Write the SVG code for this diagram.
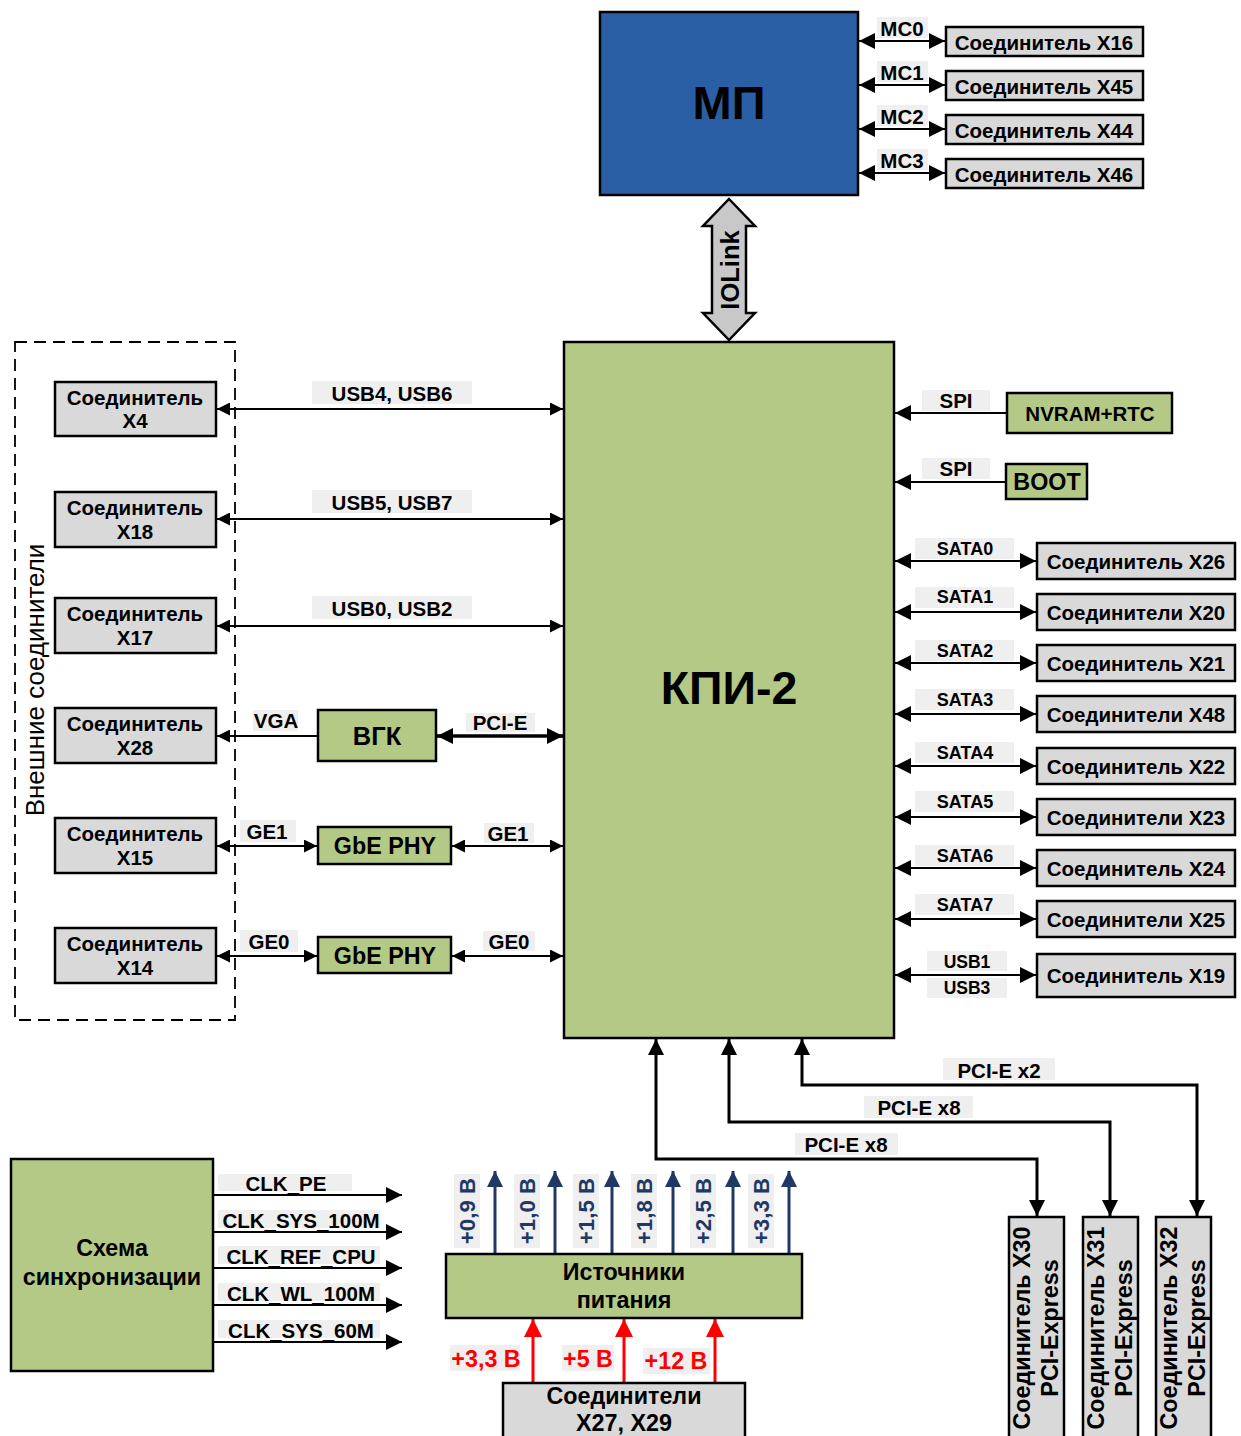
<svg xmlns="http://www.w3.org/2000/svg" width="1241" height="1436" viewBox="0 0 1241 1436">
<style>
text{font-family:"Liberation Sans",Arial,sans-serif;font-weight:bold;fill:#000}
.box{stroke:#000;stroke-width:2.5}
.gray{fill:#d9d9d9}
.green{fill:#b5c987}
.ln{stroke:#000;stroke-width:2;fill:none}
.lbg{fill:#efefef}
.c{text-anchor:middle;dominant-baseline:central}
.t18{font-size:18px}.t20{font-size:20px}.t205{font-size:20.5px}.t23{font-size:23.3px}
</style>
<defs>
<marker id="ah" viewBox="0 0 12 12" refX="12" refY="6" markerWidth="13" markerHeight="13" markerUnits="userSpaceOnUse" orient="auto-start-reverse"><path d="M0,0 L12,6 L0,12 z" fill="#000"/></marker>
<marker id="ahb" viewBox="0 0 16 16" refX="16" refY="8" markerWidth="16" markerHeight="16" markerUnits="userSpaceOnUse" orient="auto-start-reverse"><path d="M0,0 L16,8 L0,16 z" fill="#000"/></marker>
<marker id="ahn" viewBox="0 0 16 16" refX="16" refY="8" markerWidth="16" markerHeight="16" markerUnits="userSpaceOnUse" orient="auto"><path d="M0,0 L16,8 L0,16 z" fill="#1f3864"/></marker>
<marker id="ahr" viewBox="0 0 16 16" refX="16" refY="8" markerWidth="18" markerHeight="18" markerUnits="userSpaceOnUse" orient="auto"><path d="M0,0 L16,8 L0,16 z" fill="#ff0000"/></marker>
</defs>

<g id="connectors">
<g class="ln" marker-start="url(#ahb)" marker-end="url(#ahb)">
<line x1="859" y1="41" x2="945" y2="41"/>
<line x1="859" y1="85" x2="945" y2="85"/>
<line x1="859" y1="129" x2="945" y2="129"/>
<line x1="859" y1="173" x2="945" y2="173"/>
</g>
<path d="M729,199 L755,226 L746,226 L746,313 L755,313 L729,340 L703,313 L712,313 L712,226 L703,226 Z" fill="#c8c8c8" stroke="#000" stroke-width="2.5"/>
<g class="ln" marker-start="url(#ah)" marker-end="url(#ah)">
<line x1="217" y1="409" x2="563" y2="409"/>
<line x1="217" y1="519" x2="563" y2="519"/>
<line x1="217" y1="626" x2="563" y2="626"/>
<line x1="217" y1="846" x2="317" y2="846"/>
<line x1="452" y1="846" x2="563" y2="846"/>
<line x1="217" y1="956" x2="317" y2="956"/>
<line x1="452" y1="956" x2="563" y2="956"/>
</g>
<line class="ln" x1="318" y1="736" x2="217" y2="736" marker-end="url(#ah)"/>
<line x1="437" y1="736" x2="563" y2="736" stroke="#000" stroke-width="3.5" marker-start="url(#ahb)" marker-end="url(#ahb)"/>
<line class="ln" x1="1007" y1="413" x2="895" y2="413" marker-end="url(#ahb)"/>
<line class="ln" x1="1006" y1="482" x2="895" y2="482" marker-end="url(#ahb)"/>
<g class="ln" marker-start="url(#ahb)" marker-end="url(#ahb)">
<line x1="895" y1="561" x2="1036" y2="561"/>
<line x1="895" y1="612" x2="1036" y2="612"/>
<line x1="895" y1="663" x2="1036" y2="663"/>
<line x1="895" y1="714" x2="1036" y2="714"/>
<line x1="895" y1="766" x2="1036" y2="766"/>
<line x1="895" y1="817" x2="1036" y2="817"/>
<line x1="895" y1="868" x2="1036" y2="868"/>
<line x1="895" y1="919" x2="1036" y2="919"/>
<line x1="895" y1="975" x2="1036" y2="975"/>
</g>
<g stroke="#000" stroke-width="3" fill="none" marker-start="url(#ahb)" marker-end="url(#ahb)">
<polyline points="656,1039 656,1159 1037,1159 1037,1216"/>
<polyline points="729,1039 729,1122 1110,1122 1110,1216"/>
<polyline points="802,1039 802,1085 1197,1085 1197,1216"/>
</g>
<g class="ln" marker-end="url(#ahb)">
<line x1="214" y1="1195" x2="402" y2="1195"/>
<line x1="214" y1="1232" x2="402" y2="1232"/>
<line x1="214" y1="1268" x2="402" y2="1268"/>
<line x1="214" y1="1305" x2="402" y2="1305"/>
<line x1="214" y1="1342" x2="402" y2="1342"/>
</g>
<g stroke="#1f3864" stroke-width="3" marker-end="url(#ahn)">
<line x1="495" y1="1253" x2="495" y2="1171"/>
<line x1="555" y1="1253" x2="555" y2="1171"/>
<line x1="612" y1="1253" x2="612" y2="1171"/>
<line x1="673" y1="1253" x2="673" y2="1171"/>
<line x1="733" y1="1253" x2="733" y2="1171"/>
<line x1="789" y1="1253" x2="789" y2="1171"/>
</g>
<g stroke="#ff0000" stroke-width="3" marker-end="url(#ahr)">
<line x1="533" y1="1383" x2="533" y2="1319"/>
<line x1="624" y1="1383" x2="624" y2="1319"/>
<line x1="715" y1="1383" x2="715" y2="1319"/>
</g>

<g class="lbg">
<rect x="877" y="17" width="51" height="21"/>
<rect x="877" y="61" width="51" height="21"/>
<rect x="877" y="105" width="51" height="21"/>
<rect x="877" y="149" width="51" height="21"/>
<rect x="312" y="381" width="160" height="23"/>
<rect x="312" y="490" width="160" height="23"/>
<rect x="312" y="596" width="160" height="23"/>
<rect x="253" y="710" width="45" height="21"/>
<rect x="466" y="713" width="69" height="19"/>
<rect x="240" y="820" width="56" height="22"/>
<rect x="484" y="823" width="50" height="20"/>
<rect x="240" y="930" width="58" height="22"/>
<rect x="483" y="931" width="52" height="20"/>
<rect x="922" y="390" width="68" height="21"/>
<rect x="922" y="458" width="68" height="21"/>
<rect x="915" y="538" width="99" height="21"/>
<rect x="915" y="587" width="99" height="21"/>
<rect x="915" y="640" width="99" height="21"/>
<rect x="915" y="689" width="99" height="21"/>
<rect x="915" y="742" width="99" height="21"/>
<rect x="915" y="791" width="99" height="21"/>
<rect x="915" y="845" width="99" height="21"/>
<rect x="915" y="894" width="99" height="21"/>
<rect x="927" y="951" width="80" height="20"/>
<rect x="927" y="978" width="80" height="20"/>
<rect x="943" y="1058" width="112" height="22"/>
<rect x="864" y="1096" width="109" height="22"/>
<rect x="795" y="1133" width="103" height="22"/>
<rect x="218" y="1174" width="134" height="17"/>
<rect x="218" y="1210" width="162" height="18"/>
<rect x="218" y="1246" width="162" height="18"/>
<rect x="218" y="1283" width="162" height="18"/>
<rect x="218" y="1320" width="162" height="18"/>
<rect x="454" y="1174" width="26" height="74"/>
<rect x="514" y="1174" width="26" height="74"/>
<rect x="573" y="1174" width="26" height="74"/>
<rect x="631" y="1174" width="26" height="74"/>
<rect x="690" y="1174" width="26" height="74"/>
<rect x="748" y="1174" width="26" height="74"/>
<rect x="450" y="1345" width="70" height="26"/>
<rect x="562" y="1345" width="52" height="26"/>
<rect x="643" y="1348" width="67" height="26"/>
</g>
<g class="c t205">
<text x="902" y="28">MC0</text>
<text x="902" y="72">MC1</text>
<text x="902" y="116">MC2</text>
<text x="902" y="160">MC3</text>
<text x="392" y="393">USB4, USB6</text>
<text x="392" y="502">USB5, USB7</text>
<text x="392" y="608">USB0, USB2</text>
<text x="276" y="720">VGA</text>
<text x="500" y="722">PCI-E</text>
<text x="267" y="831">GE1</text>
<text x="508" y="833">GE1</text>
<text x="269" y="941">GE0</text>
<text x="509" y="941">GE0</text>
<text x="956" y="400">SPI</text>
<text x="956" y="468">SPI</text>
</g>
<g class="c t18">
<text x="965" y="549">SATA0</text>
<text x="965" y="597">SATA1</text>
<text x="965" y="651">SATA2</text>
<text x="965" y="700">SATA3</text>
<text x="965" y="753">SATA4</text>
<text x="965" y="802">SATA5</text>
<text x="965" y="856">SATA6</text>
<text x="965" y="905">SATA7</text>
<text x="967" y="962" style="font-size:17.5px">USB1</text>
<text x="967" y="988" style="font-size:17.5px">USB3</text>
</g>
<g class="c t205">
<text x="999" y="1070">PCI-E x2</text>
<text x="919" y="1107">PCI-E x8</text>
<text x="846" y="1144">PCI-E x8</text>
<text x="286" y="1183">CLK_PE</text>
<text x="301" y="1220">CLK_SYS_100M</text>
<text x="301" y="1256">CLK_REF_CPU</text>
<text x="301" y="1293">CLK_WL_100M</text>
<text x="301" y="1330">CLK_SYS_60M</text>
</g>
<g class="c" style="font-size:22.3px">
<text transform="translate(467,1211) rotate(-90)" style="fill:#1f3864">+0,9 В</text>
<text transform="translate(527,1211) rotate(-90)" style="fill:#1f3864">+1,0 В</text>
<text transform="translate(586,1211) rotate(-90)" style="fill:#1f3864">+1,5 В</text>
<text transform="translate(644,1211) rotate(-90)" style="fill:#1f3864">+1,8 В</text>
<text transform="translate(703,1211) rotate(-90)" style="fill:#1f3864">+2,5 В</text>
<text transform="translate(761,1211) rotate(-90)" style="fill:#1f3864">+3,3 В</text>
</g>
<g class="c t23">
<text x="486" y="1359" style="fill:#ff0000">+3,3 В</text>
<text x="588" y="1359" style="fill:#ff0000">+5 В</text>
<text x="676" y="1361" style="fill:#ff0000">+12 В</text>
</g>
</g>

<g id="mp">
<rect class="box" x="600" y="12" width="258" height="183" fill="#2a5fa6"/>
<text class="c" x="729" y="102" style="font-size:47px">МП</text>
</g>
<g id="x16"><rect class="box gray" x="946" y="27" width="197" height="29"/><text class="c t205" x="1044" y="42">Соединитель X16</text></g>
<g id="x45"><rect class="box gray" x="946" y="71" width="197" height="29"/><text class="c t205" x="1044" y="86">Соединитель X45</text></g>
<g id="x44"><rect class="box gray" x="946" y="115" width="197" height="29"/><text class="c t205" x="1044" y="130">Соединитель X44</text></g>
<g id="x46"><rect class="box gray" x="946" y="159" width="197" height="29"/><text class="c t205" x="1044" y="174">Соединитель X46</text></g>
<text class="c" transform="translate(730,270) rotate(-90)" style="font-size:25.5px">IOLink</text>

<g id="kpi">
<rect class="box green" x="564" y="342" width="330" height="696"/>
<text class="c" x="729" y="688" style="font-size:46.5px">КПИ-2</text>
</g>

<g id="external">
<rect x="15" y="342" width="220" height="678" fill="none" stroke="#000" stroke-width="1.8" stroke-dasharray="12,7"/>
<text class="c" transform="translate(35,680) rotate(-90)" style="font-size:26px;font-weight:normal">Внешние соединители</text>
</g>
<g id="x4"><rect class="box gray" x="55" y="382" width="161" height="54"/><text class="c t205" x="135" y="397">Соединитель</text><text class="c t205" x="135" y="420">X4</text></g>
<g id="x18"><rect class="box gray" x="55" y="492" width="161" height="55"/><text class="c t205" x="135" y="507">Соединитель</text><text class="c t205" x="135" y="531">X18</text></g>
<g id="x17"><rect class="box gray" x="55" y="598" width="161" height="55"/><text class="c t205" x="135" y="613">Соединитель</text><text class="c t205" x="135" y="637">X17</text></g>
<g id="x28"><rect class="box gray" x="55" y="708" width="161" height="55"/><text class="c t205" x="135" y="723">Соединитель</text><text class="c t205" x="135" y="747">X28</text></g>
<g id="x15"><rect class="box gray" x="55" y="818" width="161" height="55"/><text class="c t205" x="135" y="833">Соединитель</text><text class="c t205" x="135" y="857">X15</text></g>
<g id="x14"><rect class="box gray" x="55" y="928" width="161" height="55"/><text class="c t205" x="135" y="943">Соединитель</text><text class="c t205" x="135" y="967">X14</text></g>

<g id="vgk"><rect class="box green" x="318" y="710" width="118" height="51"/><text class="c" x="377" y="736" style="font-size:25.5px">ВГК</text></g>
<g id="gbe1"><rect class="box green" x="318" y="827" width="133" height="37"/><text class="c t23" x="385" y="846">GbE PHY</text></g>
<g id="gbe0"><rect class="box green" x="318" y="937" width="133" height="36"/><text class="c t23" x="385" y="956">GbE PHY</text></g>

<g id="nvram"><rect class="box green" x="1007" y="393" width="165" height="40"/><text class="c t205" x="1090" y="413">NVRAM+RTC</text></g>
<g id="boot"><rect class="box green" x="1006" y="464" width="81" height="35"/><text class="c t23" x="1047" y="482">BOOT</text></g>

<g id="x26"><rect class="box gray" x="1037" y="543" width="198" height="36"/><text class="c t205" x="1136" y="561">Соединитель X26</text></g>
<g id="x20"><rect class="box gray" x="1037" y="594" width="198" height="36"/><text class="c t205" x="1136" y="612">Соединители X20</text></g>
<g id="x21"><rect class="box gray" x="1037" y="645" width="198" height="36"/><text class="c t205" x="1136" y="663">Соединитель X21</text></g>
<g id="x48"><rect class="box gray" x="1037" y="696" width="198" height="36"/><text class="c t205" x="1136" y="714">Соединители X48</text></g>
<g id="x22"><rect class="box gray" x="1037" y="748" width="198" height="36"/><text class="c t205" x="1136" y="766">Соединитель X22</text></g>
<g id="x23"><rect class="box gray" x="1037" y="799" width="198" height="36"/><text class="c t205" x="1136" y="817">Соединители X23</text></g>
<g id="x24"><rect class="box gray" x="1037" y="850" width="198" height="36"/><text class="c t205" x="1136" y="868">Соединитель X24</text></g>
<g id="x25"><rect class="box gray" x="1037" y="901" width="198" height="36"/><text class="c t205" x="1136" y="919">Соединители X25</text></g>
<g id="x19"><rect class="box gray" x="1037" y="954" width="198" height="43"/><text class="c t205" x="1136" y="975">Соединитель X19</text></g>

<g id="x30"><rect class="box gray" x="1009" y="1217" width="55" height="225"/><text class="c t23" transform="translate(1022,1328) rotate(-90)">Соединитель X30</text><text class="c t23" transform="translate(1050,1328) rotate(-90)">PCI-Express</text></g>
<g id="x31"><rect class="box gray" x="1083" y="1217" width="55" height="225"/><text class="c t23" transform="translate(1096,1328) rotate(-90)">Соединитель X31</text><text class="c t23" transform="translate(1124,1328) rotate(-90)">PCI-Express</text></g>
<g id="x32"><rect class="box gray" x="1156" y="1217" width="55" height="225"/><text class="c t23" transform="translate(1169,1328) rotate(-90)">Соединитель X32</text><text class="c t23" transform="translate(1197,1328) rotate(-90)">PCI-Express</text></g>

<g id="clock"><rect class="box green" x="11" y="1159" width="202" height="212"/><text class="c t23" x="112" y="1248">Схема</text><text class="c t23" x="112" y="1277">синхронизации</text></g>
<g id="power"><rect class="box green" x="446" y="1254" width="356" height="64"/><text class="c t23" x="624" y="1272">Источники</text><text class="c t23" x="624" y="1300">питания</text></g>
<g id="x27"><rect class="box gray" x="503" y="1383" width="242" height="60"/><text class="c t23" x="624" y="1396">Соединители</text><text class="c t23" x="624" y="1423">X27, X29</text></g>
</svg>
